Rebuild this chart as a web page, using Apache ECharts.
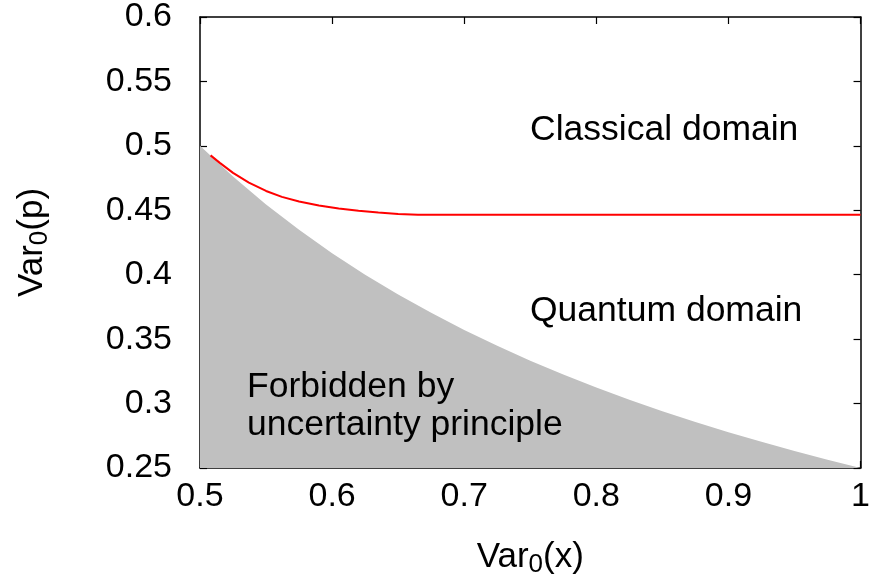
<!DOCTYPE html>
<html>
<head>
<meta charset="utf-8">
<script src="https://cdn.jsdelivr.net/npm/echarts@6/dist/echarts.min.js"></script>
<style>html,body{margin:0;padding:0;background:#fff}#c{width:873px;height:583px}</style>
</head>
<body>
<div id="c"></div>
<script>
// Boundary of the uncertainty-forbidden region, Var0(x), Var0(p)
var boundX = [0.5, 0.525, 0.55, 0.575, 0.6, 0.625, 0.65, 0.675, 0.7, 0.725, 0.75, 0.775, 0.8, 0.825, 0.85, 0.875, 0.9, 0.925, 0.95, 0.975, 1.0];
var boundY = [0.5, 0.4762, 0.4545, 0.4348, 0.4167, 0.4, 0.3846, 0.3704, 0.3571, 0.3448, 0.3333, 0.3226, 0.3125, 0.3030, 0.2941, 0.2857, 0.2778, 0.2703, 0.2632, 0.2564, 0.25];
// Red classical/quantum border curve
var curveX = [0.508, 0.515, 0.525, 0.537, 0.55, 0.562, 0.575, 0.59, 0.605, 0.62, 0.635, 0.65, 0.665, 0.68, 1.0];
var curveY = [0.4926, 0.4868, 0.4790, 0.4715, 0.4650, 0.4604, 0.4568, 0.4537, 0.4513, 0.4496, 0.4482, 0.4472, 0.4466, 0.4465, 0.4465];
var xTicks = ['0.5', '0.6', '0.7', '0.8', '0.9', '1'];
var yTicks = ['0.25', '0.3', '0.35', '0.4', '0.45', '0.5', '0.55', '0.6'];

var FONT = 'Liberation Sans, Arial, sans-serif';
function zip(a, b) { return a.map(function (v, i) { return [v, b[i]]; }); }
function fmt(list) { return function (v) { var s = String(+v.toFixed(2)); return list.indexOf(s) >= 0 ? s : ''; }; }

var tick = { show: true, inside: true, length: 7, lineStyle: { color: '#000', width: 1.2 } };
var line = { show: true, lineStyle: { color: '#000', width: 1.5 } };
var rich = { v: { fontSize: 35, fontFamily: FONT, color: '#000' }, s: { fontSize: 26, fontFamily: FONT, color: '#000', verticalAlign: 'bottom', padding: [16, 0, 0, 0] } };

var chart = echarts.init(document.getElementById('c'), null, { renderer: 'canvas' });
chart.setOption({
  animation: false,
  grid: { left: 200, top: 16, right: 12, bottom: 114, containLabel: false },
  xAxis: [
    { type: 'value', min: 0.5, max: 1, interval: 0.1, position: 'bottom',
      axisLine: line, axisTick: tick, splitLine: { show: false },
      axisLabel: { color: '#000', fontFamily: FONT, fontSize: 34, margin: 12, formatter: fmt(xTicks) },
      name: '{v|Var}{s|0}{v|(x)}', nameLocation: 'middle', nameGap: 68,
      nameTextStyle: { rich: rich } },
    { type: 'value', min: 0.5, max: 1, interval: 0.1, position: 'top',
      axisLine: line, axisTick: tick, splitLine: { show: false }, axisLabel: { show: false } }
  ],
  yAxis: [
    { type: 'value', min: 0.25, max: 0.6, interval: 0.05, position: 'left',
      axisLine: line, axisTick: tick, splitLine: { show: false },
      axisLabel: { color: '#000', fontFamily: FONT, fontSize: 34, margin: 28, formatter: fmt(yTicks) },
      name: '{v|Var}{s|0}{v|(p)}', nameLocation: 'middle', nameGap: 147,
      nameTextStyle: { rich: rich } },
    { type: 'value', min: 0.25, max: 0.6, interval: 0.05, position: 'right',
      axisLine: line, axisTick: tick, splitLine: { show: false }, axisLabel: { show: false } }
  ],
  series: [
    { type: 'line', data: zip(boundX, boundY), smooth: false, symbol: 'none',
      lineStyle: { width: 0, color: '#c0c0c0' }, areaStyle: { color: '#c0c0c0', opacity: 1, origin: 'start' }, z: 1 },
    { type: 'line', data: zip(curveX, curveY), smooth: false, symbol: 'none',
      lineStyle: { width: 2, color: '#ff0000' }, z: 3 }
  ],
  graphic: [
    { type: 'text', left: 530, top: 112, style: { text: 'Classical domain', font: '35.5px ' + FONT, fill: '#000' }, z: 10 },
    { type: 'text', left: 530, top: 293, style: { text: 'Quantum domain', font: '35.5px ' + FONT, fill: '#000' }, z: 10 },
    { type: 'text', left: 247, top: 368, style: { text: 'Forbidden by\nuncertainty principle', font: '35.5px ' + FONT, lineHeight: 38, fill: '#000' }, z: 10 }
  ]
});
</script>
</body>
</html>
